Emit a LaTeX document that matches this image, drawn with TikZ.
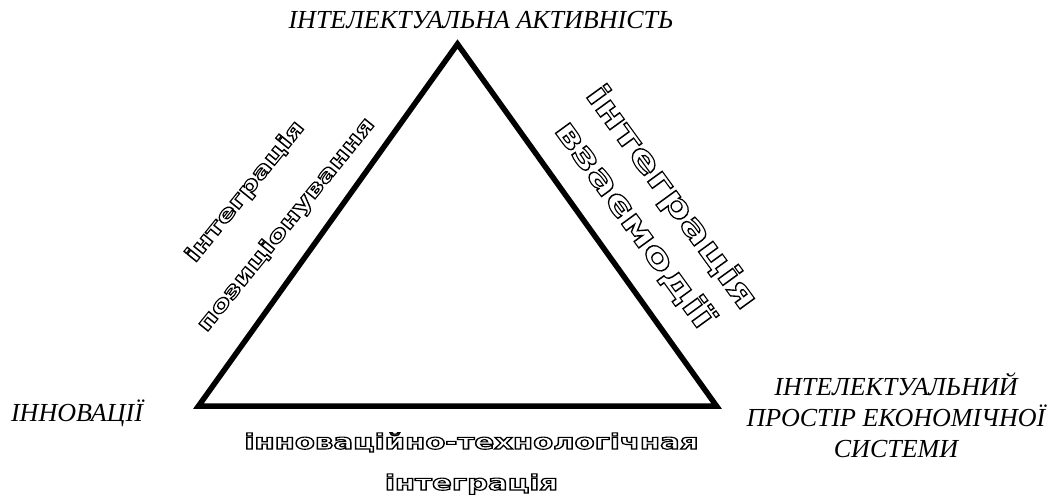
\documentclass[tikz,border=0pt]{standalone}
\usepackage{fontspec}
\setmainfont{Liberation Serif}
\newfontfamily\outlfont{DejaVu Sans Bold}
\newcommand{\outlsx}{1.37}
\newcommand{\outl}[1]{\scalebox{\outlsx}[1]{\special{pdf:literal direct 2 Tr 1.1 w 0 G 1 g}#1\special{pdf:literal direct 0 Tr 0 g 0 G}}}
\tikzset{
  lab/.style={font=\fontsize{26}{31}\selectfont\itshape, align=center, inner sep=0pt},
  outbottom/.style={font=\fontsize{21.3}{41}\selectfont\outlfont, align=center, inner sep=0pt},
  outleft/.style={font=\fontsize{21.5}{52.6}\selectfont\outlfont, align=center, inner sep=0pt, rotate=51},
  outright/.style={font=\fontsize{33}{46}\selectfont\outlfont, align=center, inner sep=0pt, rotate=-54},
  tri/.style={line width=5.5pt, line join=miter}
}
\begin{document}
\begin{tikzpicture}[x=1pt,y=-1pt]
\useasboundingbox (0,0) rectangle (1048,498);
\coordinate (A) at (457.5,44);
\coordinate (B) at (198.5,406);
\coordinate (C) at (716.5,406);
\draw[tri] (A) -- (B) -- (C) -- cycle;
\node[lab, anchor=base] (top) at (481,28) {ІНТЕЛЕКТУАЛЬНА АКТИВНІСТЬ};
\node[lab, anchor=base] (inn) at (77,421) {ІННОВАЦІЇ};
\node[lab] (space) at (896,415) {ІНТЕЛЕКТУАЛЬНИЙ\\ПРОСТІР ЕКОНОМІЧНОЇ\\СИСТЕМИ};
\node[outbottom, anchor=base] (bot) at (471.5,490) {\outl{інноваційно-технологічная}\\\outl{інтеграція}};
\node[outleft] (left) at (266,208.5) {\outl{інтеграція}\\\outl{позиціонування}};
\node[outright] (right) at (653,211) {\outl{інтеграція}\\\outl{взаємодії}};
\end{tikzpicture}
\end{document}
